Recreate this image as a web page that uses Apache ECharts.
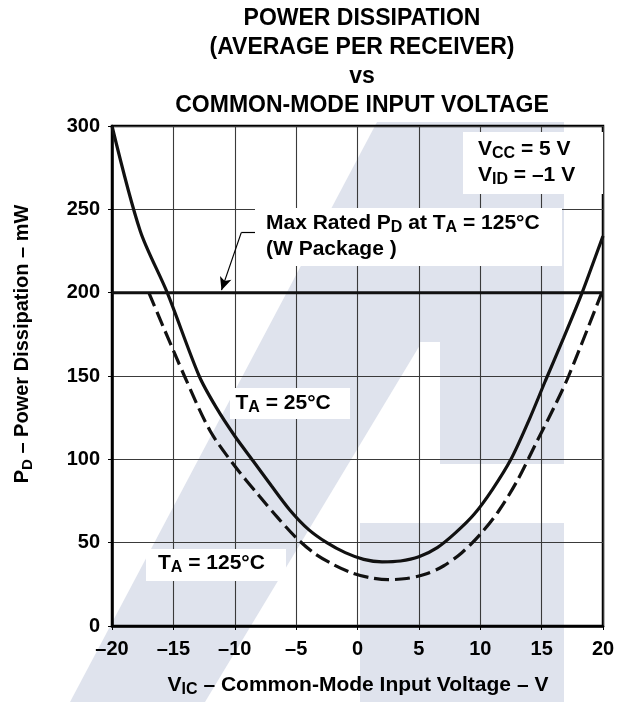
<!DOCTYPE html>
<html><head><meta charset="utf-8">
<script src="https://cdn.jsdelivr.net/npm/echarts@6/dist/echarts.min.js"></script>
<style>html,body{margin:0;padding:0;background:#fff}#c{width:634px;height:702px}</style>
</head><body><div id="c"></div>
<script>
// ---- data ----
const xTicks = [-20, -15, -10, -5, 0, 5, 10, 15, 20];
const yTicks = [0, 50, 100, 150, 200, 250, 300];
// T_A = 25°C (solid)
const vic25 = [-20, -17.7, -15.5, -12.9, -11.5, -10, -8.5, -7, -5.5, -4, -2.5, -1, 0.5, 2, 3.5, 5, 6.5, 8, 9.5, 11, 12.5, 14, 15.3, 16.8, 18.3, 20];
const pd25  = [300, 237, 200, 150, 131, 114, 99, 84, 69.5, 58, 50, 44, 40, 38.5, 39, 41.5, 47, 56, 67, 82, 100, 124, 147, 173, 200, 234];
// T_A = 125°C (dashed)
const vic125 = [-17, -14.1, -12, -10, -8, -6.5, -5, -3.5, -2, -0.5, 1, 2.5, 4, 5.5, 7, 8.5, 10, 11.5, 13, 14.5, 16, 17.2, 19.9];
const pd125  = [200, 150, 117, 96, 78, 65, 53, 43.5, 37, 32, 29, 27.8, 28.5, 31, 36, 44, 55, 69, 87, 109, 131, 150, 200];
// Max rated P_D line
const maxRatedVic = [-20, 20];
const maxRatedPd = [200, 200];

const F = '"Liberation Sans", Arial, Helvetica, sans-serif';
const chart = echarts.init(document.getElementById('c'));
const pairs = (xs, ys) => xs.map((x, i) => [x, ys[i]]);
const minus = v => String(v).replace('-', '\u2013');
const WM = '#dfe3ed';

function box(x, y, w, h) {
  return {type: 'rect', z: 10, silent: true, shape: {x: x, y: y, width: w, height: h}, style: {fill: '#fff'}};
}
function rtext(x, y, text, fs, lh, extra) {
  const sf = Math.round(fs * 0.76);
  return Object.assign({
    type: 'text', z: 11, silent: true, x: x, y: y,
    style: Object.assign({
      text: text, fill: '#000', font: 'bold ' + fs + 'px ' + F, lineHeight: lh,
      rich: {
        m: {fontSize: fs, lineHeight: lh, fontWeight: 'bold', fontFamily: F},
        s: {fontSize: sf, lineHeight: sf, padding: [lh - sf, 0, 0, 0], fontWeight: 'bold', fontFamily: F}
      }
    }, (extra && extra.style) || {})
  }, extra ? {rotation: extra.rotation || 0} : {});
}

const option = {
  animation: false,
  backgroundColor: '#fff',
  grid: {left: 112, right: 31, top: 126, bottom: 76, show: true, borderColor: '#000', borderWidth: 2.5, backgroundColor: 'transparent'},
  xAxis: {
    type: 'value', min: xTicks[0], max: xTicks[xTicks.length - 1], interval: 5,
    axisLine: {show: true, onZero: false, lineStyle: {color: '#000', width: 2.5}},
    axisTick: {show: true, length: 4, lineStyle: {color: '#000', width: 1}},
    splitLine: {show: true, lineStyle: {color: '#3a3a3a', width: 1.1}},
    axisLabel: {margin: 13, color: '#000', fontSize: 20, fontWeight: 'bold', fontFamily: F, formatter: minus}
  },
  yAxis: {
    type: 'value', min: yTicks[0], max: yTicks[yTicks.length - 1], interval: 50,
    axisLine: {show: true, onZero: false, lineStyle: {color: '#000', width: 2.5}},
    axisTick: {show: true, length: 4, lineStyle: {color: '#000', width: 1}},
    splitLine: {show: true, lineStyle: {color: '#3a3a3a', width: 1.1}},
    axisLabel: {margin: 12, color: '#000', fontSize: 20, fontWeight: 'bold', fontFamily: F}
  },
  series: [
    {type: 'line', data: pairs(maxRatedVic, maxRatedPd), symbol: 'none', z: 3,
     lineStyle: {color: '#111', width: 3}},
    {type: 'line', name: 'TA = 25°C', data: pairs(vic25, pd25), symbol: 'none', smooth: 0.3, z: 4,
     lineStyle: {color: '#111', width: 3.2}},
    {type: 'line', name: 'TA = 125°C', data: pairs(vic125, pd125), symbol: 'none', smooth: 0.3, z: 4,
     lineStyle: {color: '#111', width: 3.2, type: [15, 6]}},
    {type: 'line', data: [], symbol: 'none', z: 12,
     markLine: {silent: true, symbol: ['none', 'arrow'], symbolSize: [9, 13], label: {show: false},
       lineStyle: {color: '#000', width: 1.2, type: 'solid'},
       data: [[{coord: [-8.3, 236], symbol: 'none'}, {coord: [-9.47, 236], symbol: 'none'}],
              [{coord: [-9.47, 236], symbol: 'none'}, {coord: [-11.08, 201.5]}]]}}
  ],
  graphic: [
    // watermark (background logo)
    {type: 'polygon', z: -10, silent: true, shape: {points: [[70, 702], [205, 702], [420, 345], [420, 122], [377, 122]]}, style: {fill: WM}},
    {type: 'rect', z: -10, silent: true, shape: {x: 377, y: 122, width: 187, height: 220}, style: {fill: WM}},
    {type: 'rect', z: -10, silent: true, shape: {x: 440, y: 122, width: 124, height: 342}, style: {fill: WM}},
    {type: 'rect', z: -10, silent: true, shape: {x: 360, y: 523, width: 204, height: 179}, style: {fill: WM}},
    // title
    {type: 'text', z: 11, silent: true, x: 362, y: 4,
     style: {text: 'POWER DISSIPATION\n(AVERAGE PER RECEIVER)\nvs\nCOMMON-MODE INPUT VOLTAGE', fill: '#000',
       font: 'bold 23px ' + F, lineHeight: 29, align: 'center', verticalAlign: 'top'}},
    // annotation boxes
    box(463, 132, 140, 62),
    rtext(478, 136, '{m|V}{s|CC}{m| = 5 V}\n{m|V}{s|ID}{m| = \u20131 V}', 21, 26),
    box(255, 208, 307, 58),
    rtext(266, 210, '{m|Max Rated P}{s|D}{m| at T}{s|A}{m| = 125°C}\n{m|(W Package )}', 21, 26),
    box(230, 388, 120, 31),
    rtext(235.5, 390, '{m|T}{s|A}{m| = 25°C}', 21, 26),
    box(146, 549, 140, 32),
    rtext(158, 550, '{m|T}{s|A}{m| = 125°C}', 21, 26),
    // axis titles
    rtext(358, 672, '{m|V}{s|IC}{m| \u2013 Common-Mode Input Voltage \u2013 V}', 21, 26, {style: {align: 'center'}}),
    rtext(9, 344, '{m|P}{s|D}{m| \u2013 Power Dissipation \u2013 mW}', 20, 26, {style: {align: 'center'}, rotation: Math.PI / 2})
  ]
};
chart.setOption(option);
</script>
</body></html>
